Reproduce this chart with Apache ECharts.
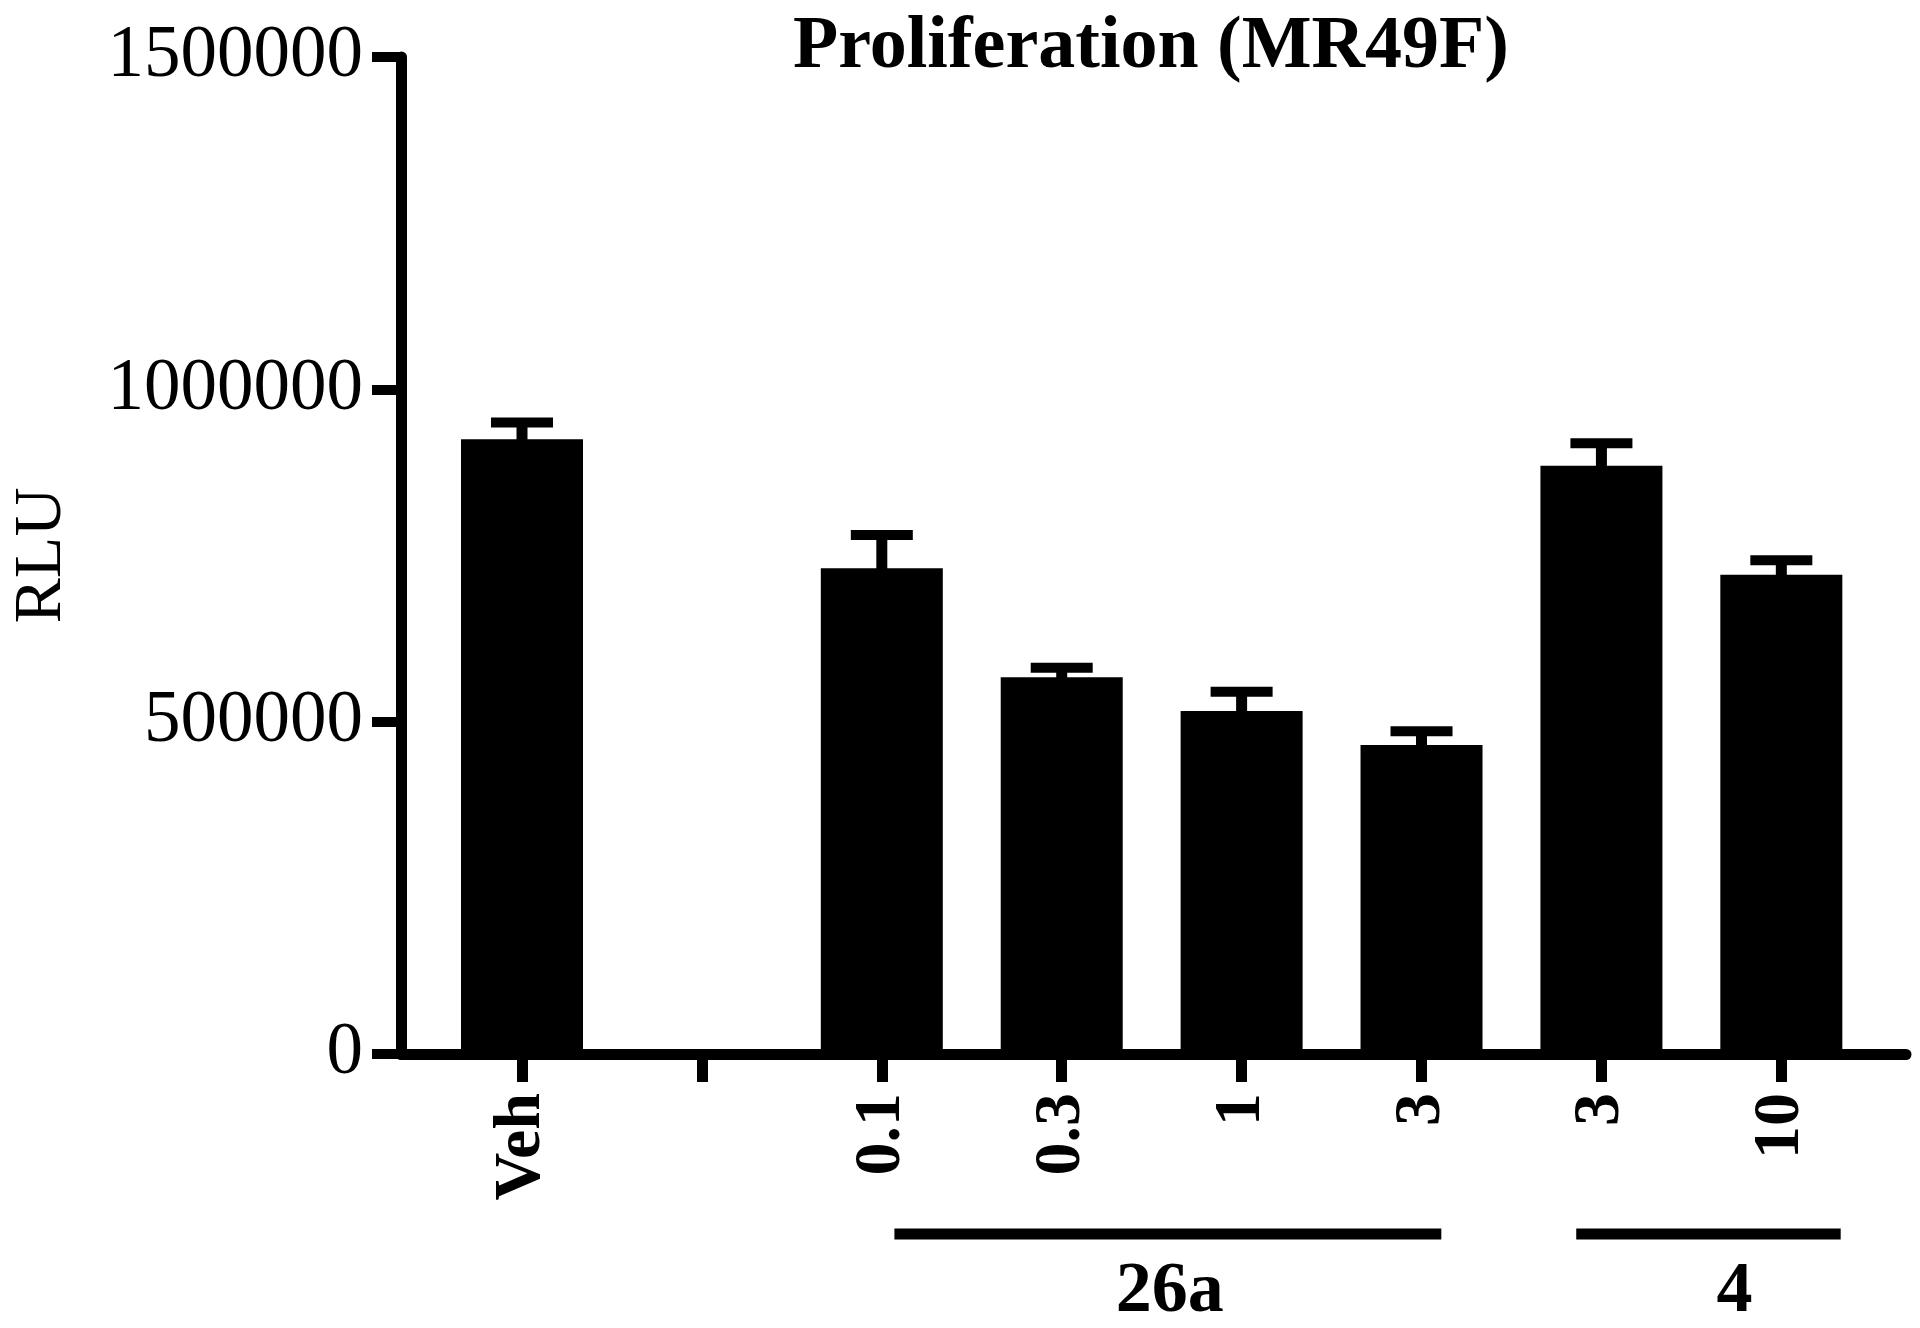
<!DOCTYPE html>
<html>
<head>
<meta charset="utf-8">
<title>Proliferation (MR49F)</title>
<script src="https://cdn.jsdelivr.net/npm/echarts@6/dist/echarts.min.js"></script>
<style>
  html, body { margin: 0; padding: 0; background: #fff; }
  #chart { width: 1920px; height: 1328px; }
</style>
</head>
<body>
<div id="chart"></div>
<script>
  // values
  var categories = ['Veh', '', '0.1', '0.3', '1', '3', '3', '10'];
  var means = [925000, null, 731000, 567000, 516000, 465000, 885000, 721000];
  var sems = [25000, null, 50000, 14000, 29000, 20500, 33700, 21700];
  var yTicks = [0, 500000, 1000000, 1500000];

  // group bars under the axis: [from, to, label position] in category units
  var groupNames = ['26a', '4'];
  var groupSpans = [[2.07, 5.11, 3.6], [5.86, 7.33, 6.74]];

  var FONT = '"Liberation Serif", "Times New Roman", serif';

  var barData = [];
  var errData = [];
  for (var i = 0; i < categories.length; i++) {
    if (means[i] == null) continue;
    barData.push([i, means[i]]);
    errData.push([i, means[i], sems[i]]);
  }
  var tickIdx = categories.map(function (c, i) { return i; });

  var myChart = echarts.init(document.getElementById('chart'));
  var option = {
    animation: false,
    backgroundColor: '#fff',
    title: {
      text: 'Proliferation (MR49F)',
      left: 1146,
      top: 6,
      textAlign: 'center',
      textStyle: {
        fontFamily: FONT,
        fontWeight: 'bold',
        fontSize: 74,
        color: '#000'
      }
    },
    grid: {
      left: 401,
      right: 14,
      top: 57,
      bottom: 274,
      containLabel: false,
      outerBoundsMode: 'none'
    },
    xAxis: {
      type: 'value',
      min: -0.6726,
      max: 7.693,
      splitLine: { show: false },
      axisLine: { show: true, onZero: false, lineStyle: { color: '#000', width: 11 } },
      axisTick: {
        show: true,
        customValues: tickIdx,
        length: 28,
        lineStyle: { color: '#000', width: 11 }
      },
      axisLabel: {
        customValues: tickIdx,
        rotate: 90,
        margin: 39,
        fontFamily: FONT,
        fontWeight: 'bold',
        fontSize: 66,
        color: '#000',
        formatter: function (v) { return categories[Math.round(v)] || ''; }
      }
    },
    yAxis: {
      type: 'value',
      min: 0,
      max: 1500000,
      interval: 500000,
      name: 'RLU',
      nameLocation: 'middle',
      nameRotate: 90,
      nameGap: 325,
      nameTextStyle: {
        fontFamily: FONT,
        fontSize: 68,
        color: '#000'
      },
      splitLine: { show: false },
      axisLine: { show: true, onZero: false, lineStyle: { color: '#000', width: 11 } },
      axisTick: {
        show: true,
        length: 29,
        lineStyle: { color: '#000', width: 10 }
      },
      axisLabel: {
        margin: 38,
        fontFamily: FONT,
        fontSize: 73,
        color: '#000',
        formatter: function (v) { return yTicks.indexOf(v) >= 0 ? String(v) : ''; }
      }
    },
    series: [{
      name: 'RLU',
      type: 'bar',
      barWidth: 122,
      itemStyle: { color: '#000' },
      data: barData,
      z: 2
    }, {
      name: 'SEM',
      type: 'custom',
      data: errData,
      z: 3,
      renderItem: function (params, api) {
        var x = api.value(0), m = api.value(1), e = api.value(2);
        var top = api.coord([x, m]);
        var cap = api.coord([x, m + e]);
        return {
          type: 'group',
          children: [{
            type: 'rect',
            shape: { x: top[0] - 5.5, y: cap[1], width: 11, height: top[1] - cap[1] + 2 },
            style: { fill: '#000' }
          }, {
            type: 'rect',
            shape: { x: top[0] - 31, y: cap[1] - 5, width: 62, height: 10 },
            style: { fill: '#000' }
          }]
        };
      }
    }, {
      name: 'groups',
      type: 'custom',
      clip: false,
      silent: true,
      data: groupSpans,
      renderItem: function (params, api) {
        var a = api.coord([api.value(0), 0]);
        var b = api.coord([api.value(1), 0]);
        var c = api.coord([api.value(2), 0]);
        return {
          type: 'group',
          children: [{
            type: 'rect',
            shape: { x: a[0], y: a[1] + 174.5, width: b[0] - a[0], height: 11 },
            style: { fill: '#000' }
          }, {
            type: 'text',
            x: c[0],
            y: a[1] + 238,
            style: {
              text: groupNames[params.dataIndex],
              font: 'bold 72px ' + FONT,
              fill: '#000',
              align: 'center',
              verticalAlign: 'middle'
            }
          }]
        };
      }
    }]
  };
  myChart.setOption(option);
</script>
</body>
</html>
